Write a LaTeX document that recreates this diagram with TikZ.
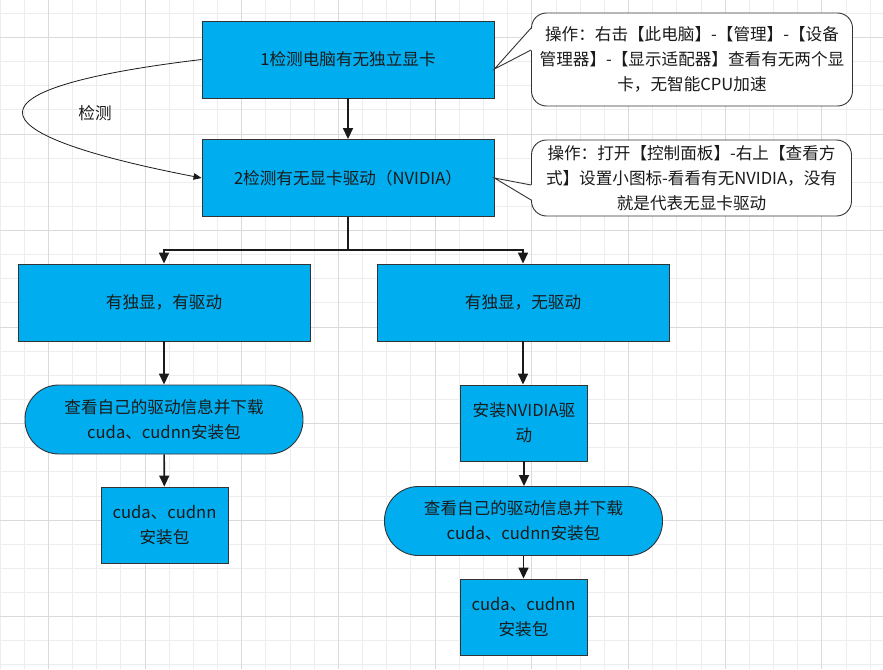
\documentclass[tikz,border=0pt]{standalone}
\usepackage{fontspec}
\setmainfont{Noto Sans CJK SC}
\usetikzlibrary{arrows.meta,calc}
\definecolor{boxblue}{HTML}{00AEEF}
\definecolor{edgecol}{HTML}{333333}
\definecolor{ink}{HTML}{1A1A1A}
\definecolor{gridminor}{HTML}{EDEDED}
\definecolor{gridmajor}{HTML}{DADADA}
\begin{document}
\begin{tikzpicture}[x=1pt,y=-1pt,
  txt/.style={text=ink,font=\fontsize{16.6}{25}\selectfont,align=center,inner sep=0pt},
  box/.style={txt,draw=edgecol,fill=boxblue,line width=0.9pt},
  bigbox/.style={box,minimum width=292pt,minimum height=77pt},
  smallbox/.style={box,minimum width=127pt,minimum height=76pt},
  term/.style={box,minimum width=278pt,minimum height=69pt,rounded corners=34pt},
  callout/.style={txt,draw=edgecol,fill=white,line width=0.9pt,rounded corners=15pt},
  flow/.style={draw=ink,line width=1.6pt,-{Triangle[length=11pt,width=10pt]}},
  thin/.style={draw=ink,line width=0.8pt,-{Triangle[length=8pt,width=6.5pt]}}
]
\useasboundingbox (0,0) rectangle (883,669);
\fill[white] (0,0) rectangle (883,669);
% grid
\foreach \i in {0,...,36}{\draw[gridminor,line width=0.8pt] (\i*24.17,0) -- (\i*24.17,669);}
\foreach \j in {0,...,27}{\draw[gridminor,line width=0.8pt] (0,13.3+\j*24.13) -- (883,13.3+\j*24.13);}
\foreach \i in {2,6,...,34}{\draw[gridmajor,line width=0.8pt] (\i*24.17,0) -- (\i*24.17,669);}
\foreach \j in {1,5,...,25}{\draw[gridmajor,line width=0.8pt] (0,13.3+\j*24.13) -- (883,13.3+\j*24.13);}

% nodes
\node[bigbox] (b1) at (348,59.5) {1检测电脑有无独立显卡};
\node[bigbox] (b2) at (348,178) {2检测有无显卡驱动（NVIDIA）};
\node[bigbox] (b3) at (164,302.5) {有独显，有驱动};
\node[bigbox] (b4) at (523,302.5) {有独显，无驱动};
\node[term] (t1) at (164,419.5) {查看自己的驱动信息并下载\\cuda、cudnn安装包};
\node[smallbox] (b5) at (164.5,525) {cuda、cudnn\\安装包};
\node[smallbox] (b6) at (524,423) {安装NVIDIA驱\\动};
\node[term] (t2) at (523.5,521) {查看自己的驱动信息并下载\\cuda、cudnn安装包};
\node[smallbox] (b7) at (523.5,617) {cuda、cudnn\\安装包};

% callouts
\node[callout,minimum width=321pt,minimum height=93pt] (c1) at (692,59.5) {操作：右击【此电脑】-【管理】-【设备\\管理器】-【显示适配器】查看有无两个显\\卡，无智能CPU加速};
\node[callout,minimum width=320pt,minimum height=76pt] (c2) at (691.5,178) {操作：打开【控制面板】-右上【查看方\\式】设置小图标-看看有无NVIDIA，没有\\就是代表无显卡驱动};
\coordinate (p1) at ([yshift=-9.5pt]b1.east);
\coordinate (p2) at ([yshift=0pt]b2.east);
\fill[white] (p1) -- ($(c1.west)+(1.2,-31.5)$) -- ($(c1.west)+(1.2,-9.5)$) -- cycle;
\draw[edgecol,line width=0.9pt] ($(c1.west)+(0,-31.5)$) -- (p1) -- ($(c1.west)+(0,-9.5)$);
\fill[white] (p2) -- ($(c2.west)+(1.2,7)$) -- ($(c2.west)+(1.2,22)$) -- cycle;
\draw[edgecol,line width=0.9pt] ($(c2.west)+(0,7)$) -- (p2) -- ($(c2.west)+(0,22)$);

% connectors
\draw[flow] (b1) -- (b2);
\coordinate (split) at (348,250);
\draw[flow] (b2.south) -- (split) -| (b3.north);
\draw[flow] (b2.south) -- (split) -| (b4.north);
\draw[flow] (b3) -- (t1);
\draw[flow] (t1) -- (b5);
\draw[flow] (b4.south) -- (b4.south |- b6.north);
\draw[flow] (b6.south) -- (b6.south |- t2.north);
\draw[flow] (t2.south) -- (t2.south |- b7.north);
\draw[thin] (b1.west) .. controls (-36,88) and (-36,132) .. (b2.west);
\node[txt] (lbl) at (95,113) {检测};
\end{tikzpicture}
\end{document}
